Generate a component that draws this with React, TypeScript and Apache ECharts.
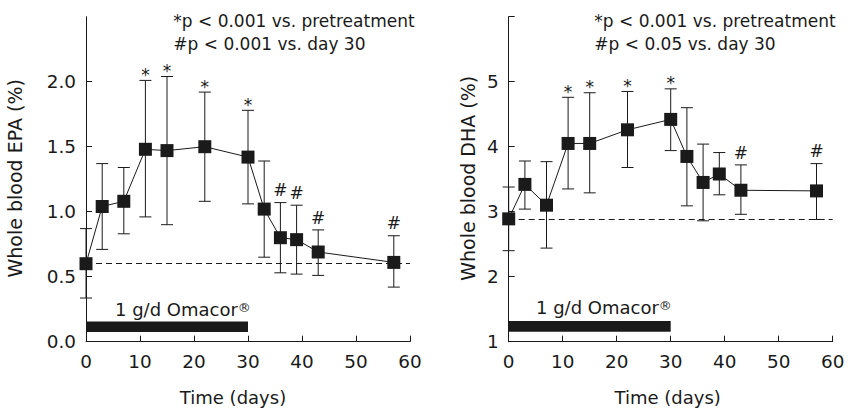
import React, { useEffect, useRef } from 'react';
import * as echarts from 'echarts';

// ---- data ----
const days = [0, 3, 7, 11, 15, 22, 30, 33, 36, 39, 43, 57];

const epaMean = [0.6, 1.04, 1.08, 1.48, 1.47, 1.5, 1.42, 1.02, 0.8, 0.785, 0.69, 0.61];
const epaLow = [0.336, 0.71, 0.83, 0.96, 0.9, 1.08, 1.06, 0.65, 0.53, 0.52, 0.51, 0.42];
const epaHigh = [0.87, 1.37, 1.34, 2.01, 2.04, 1.92, 1.78, 1.39, 1.07, 1.05, 0.86, 0.815];
const epaSig = ['', '', '', '*', '*', '*', '*', '', '#', '#', '#', '#'];

const dhaMean = [2.89, 3.42, 3.1, 4.05, 4.05, 4.26, 4.42, 3.85, 3.45, 3.58, 3.33, 3.32];
const dhaLow = [2.4, 3.04, 2.44, 3.35, 3.29, 3.68, 3.94, 3.09, 2.86, 3.26, 2.96, 2.88];
const dhaHigh = [3.38, 3.78, 3.77, 4.76, 4.83, 4.85, 4.89, 4.6, 4.04, 3.91, 3.72, 3.74];
const dhaSig = ['', '', '', '*', '*', '*', '*', '', '', '', '#', '#'];

const xTicks = [0, 10, 20, 30, 40, 50, 60];
const epaTickValues = [0, 0.5, 1.0, 1.5, 2.0];
const epaAxisMax = 2.5;
const dhaTickValues = [1, 2, 3, 4, 5, 6];
const dhaLabelValues = [1, 2, 3, 4, 5];

const epaBaseline = 0.605;
const dhaBaseline = 2.88;
const omacorDays = [0, 30];
const epaOmacorBand = [0.075, 0.155];
const dhaOmacorBand = [1.155, 1.318];

const epaNotes = ['*p < 0.001 vs. pretreatment', '#p < 0.001 vs. day 30'];
const dhaNotes = ['*p < 0.001 vs. pretreatment', '#p < 0.05 vs. day 30'];

// ---- styles ----
const FONT = 'DejaVu Sans';
const INK = '#1a1a1a';

function errorSeries(idx: number, low: number[], high: number[]) {
  return {
    type: 'custom',
    xAxisIndex: idx,
    yAxisIndex: idx,
    z: 1,
    silent: true,
    encode: { x: 0, y: [1, 2] },
    data: days.map((d, i) => [d, low[i], high[i]]),
    renderItem: (params: any, api: any) => {
      const x = api.value(0);
      const pLo = api.coord([x, api.value(1)]);
      const pHi = api.coord([x, api.value(2)]);
      const w = 6;
      const st = { stroke: INK, lineWidth: 1 };
      return {
        type: 'group',
        children: [
          { type: 'line', shape: { x1: pLo[0], y1: pLo[1], x2: pHi[0], y2: pHi[1] }, style: st },
          { type: 'line', shape: { x1: pHi[0] - w, y1: pHi[1], x2: pHi[0] + w, y2: pHi[1] }, style: st },
          { type: 'line', shape: { x1: pLo[0] - w, y1: pLo[1], x2: pLo[0] + w, y2: pLo[1] }, style: st },
        ],
      };
    },
  };
}

function sigSeries(idx: number, high: number[], sig: string[]) {
  const pts = days
    .map((d, i) => ({ d, h: high[i], s: sig[i] }))
    .filter((p) => p.s !== '');
  return {
    type: 'custom',
    xAxisIndex: idx,
    yAxisIndex: idx,
    z: 3,
    silent: true,
    data: pts.map((p) => [p.d, p.h]),
    renderItem: (params: any, api: any) => {
      const p = pts[params.dataIndex];
      const c = api.coord([p.d, p.h]);
      const off = p.s === '*' ? 5.5 : 12.3;
      return {
        type: 'text',
        x: c[0],
        y: c[1] - off,
        style: {
          text: p.s,
          fill: INK,
          font: `17px "${FONT}"`,
          align: 'center',
          verticalAlign: 'middle',
        },
      };
    },
  };
}

function barSeries(idx: number, band: number[]) {
  return {
    type: 'custom',
    xAxisIndex: idx,
    yAxisIndex: idx,
    z: 1,
    silent: true,
    data: [[omacorDays[0], omacorDays[1], band[0], band[1]]],
    renderItem: (params: any, api: any) => {
      const p0 = api.coord([api.value(0), api.value(3)]);
      const p1 = api.coord([api.value(1), api.value(2)]);
      return {
        type: 'rect',
        shape: { x: p0[0], y: p0[1], width: p1[0] - p0[0], height: p1[1] - p0[1] },
        style: { fill: INK },
      };
    },
  };
}

function meanSeries(idx: number, mean: number[], base: number) {
  return {
    type: 'line',
    xAxisIndex: idx,
    yAxisIndex: idx,
    z: 2,
    silent: true,
    data: days.map((d, i) => [d, mean[i]]),
    symbol: 'rect',
    symbolSize: 13,
    lineStyle: { color: INK, width: 1 },
    itemStyle: { color: INK },
    markLine: {
      silent: true,
      symbol: 'none',
      label: { show: false },
      lineStyle: { color: INK, width: 1, type: [6, 4] },
      data: [{ yAxis: base }],
    },
  };
}

const axisCommon = {
  axisLine: { show: true, lineStyle: { color: INK, width: 1 } },
  axisTick: { show: true, inside: true, length: 6, lineStyle: { color: INK, width: 1 } },
  splitLine: { show: false },
};

function xAxis(idx: number) {
  return {
    type: 'value',
    gridIndex: idx,
    min: xTicks[0],
    max: xTicks[xTicks.length - 1],
    interval: 10,
    ...axisCommon,
    axisLabel: { color: INK, fontFamily: FONT, fontSize: 18.4, margin: 11 },
  };
}

export default function App() {
  const ref = useRef<HTMLDivElement>(null);
  useEffect(() => {
    if (!ref.current) return;
    const chart = echarts.init(ref.current, undefined, { renderer: 'svg' });
    const textStyle = (size: number) => ({ fill: INK, font: `${size}px "${FONT}"` });
    const reg = { r: { fontSize: 13, fontFamily: FONT, fill: INK, verticalAlign: 'top', lineHeight: 13 } };
    chart.setOption({
      animation: false,
      backgroundColor: '#ffffff',
      grid: [
        { left: 86, top: 16.7, width: 324, height: 325 },
        { left: 508.7, top: 16.7, width: 324, height: 325 },
      ],
      xAxis: [xAxis(0), xAxis(1)],
      yAxis: [
        {
          type: 'value',
          gridIndex: 0,
          min: 0,
          max: epaAxisMax,
          interval: 0.5,
          ...axisCommon,
          axisTick: { ...axisCommon.axisTick, customValues: epaTickValues },
          axisLabel: {
            color: INK,
            fontFamily: FONT,
            fontSize: 18.4,
            margin: 10,
            customValues: epaTickValues,
            formatter: (v: number) => v.toFixed(1),
          },
        },
        {
          type: 'value',
          gridIndex: 1,
          min: 1,
          max: 6,
          interval: 1,
          ...axisCommon,
          axisTick: { ...axisCommon.axisTick, customValues: dhaTickValues },
          axisLabel: {
            color: INK,
            fontFamily: FONT,
            fontSize: 18.4,
            margin: 10,
            customValues: dhaLabelValues,
          },
        },
      ],
      series: [
        barSeries(0, epaOmacorBand),
        errorSeries(0, epaLow, epaHigh),
        meanSeries(0, epaMean, epaBaseline),
        sigSeries(0, epaHigh, epaSig),
        barSeries(1, dhaOmacorBand),
        errorSeries(1, dhaLow, dhaHigh),
        meanSeries(1, dhaMean, dhaBaseline),
        sigSeries(1, dhaHigh, dhaSig),
      ],
      graphic: [
        { type: 'text', x: 173.3, y: 21.2, style: { ...textStyle(17), text: epaNotes[0], verticalAlign: 'middle' } },
        { type: 'text', x: 173.3, y: 44, style: { ...textStyle(17), text: epaNotes[1], verticalAlign: 'middle' } },
        { type: 'text', x: 594.3, y: 21.2, style: { ...textStyle(17), text: dhaNotes[0], verticalAlign: 'middle' } },
        { type: 'text', x: 594.3, y: 44, style: { ...textStyle(17), text: dhaNotes[1], verticalAlign: 'middle' } },
        {
          type: 'text', x: 115, y: 309.7,
          style: { ...textStyle(18), text: '1 g/d Omacor{r|®}', verticalAlign: 'middle', rich: reg },
        },
        {
          type: 'text', x: 536, y: 307.7,
          style: { ...textStyle(18), text: '1 g/d Omacor{r|®}', verticalAlign: 'middle', rich: reg },
        },
        { type: 'text', x: 233, y: 397.5, style: { ...textStyle(18), text: 'Time (days)', align: 'center', verticalAlign: 'middle' } },
        { type: 'text', x: 667.7, y: 397.5, style: { ...textStyle(18), text: 'Time (days)', align: 'center', verticalAlign: 'middle' } },
        {
          type: 'text', x: 15, y: 178.3, rotation: Math.PI / 2,
          style: { ...textStyle(19), text: 'Whole blood EPA (%)', align: 'center', verticalAlign: 'middle' },
        },
        {
          type: 'text', x: 467.5, y: 178.3, rotation: Math.PI / 2,
          style: { ...textStyle(19), text: 'Whole blood DHA (%)', align: 'center', verticalAlign: 'middle' },
        },
      ],
    });
    return () => chart.dispose();
  }, []);
  return (
    <div
      ref={ref}
      style={{ position: 'fixed', left: 0, top: 0, width: 862, height: 410, background: '#fff' }}
    />
  );
}
